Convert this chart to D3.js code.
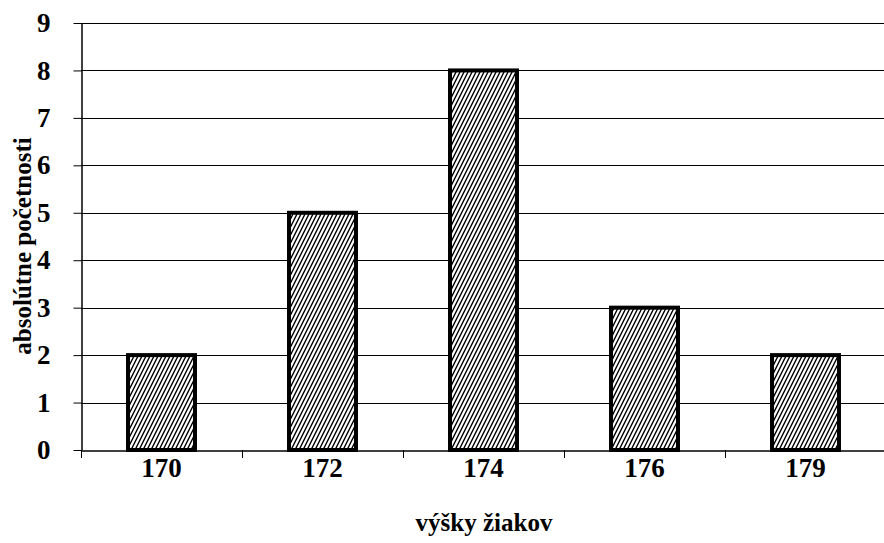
<!DOCTYPE html>
<html><head><meta charset="utf-8">
<script src="https://cdn.jsdelivr.net/npm/d3@7"></script>
<style>body{margin:0;background:#fff}svg{display:block}text{font-family:"Liberation Serif","Times New Roman",serif;font-weight:bold;fill:#000}</style>
</head><body><svg id="c" width="884" height="543"></svg>
<script>
const categories = ["170","172","174","176","179"];
const values = [2,5,8,3,2];
const yTicks = [0,1,2,3,4,5,6,7,8,9];
const xTitle = "výšky žiakov";
const yTitle = "absolútne početnosti";

const svg = d3.select("#c");
const L = 81, R = 886, T = 23, B = 450;
const x = d3.scaleBand().domain(categories).range([L, R]).paddingInner(0.584).paddingOuter(0.292);
const xb = d3.scaleBand().domain(categories).range([L, R]);
const y = d3.scaleLinear().domain([0, 9]).range([B, T]);

const defs = svg.append("defs");
const pat = defs.append("pattern").attr("id","hatch").attr("patternUnits","userSpaceOnUse").attr("width",4).attr("height",8);
pat.append("rect").attr("width",4).attr("height",8).attr("fill","#fff");
pat.append("path").attr("d","M0,8 L4,0 M-2,4 L2,-4 M2,12 L6,4").attr("stroke","#000").attr("stroke-width",1.4);

// gridlines
svg.append("g").selectAll("line").data(yTicks.filter(d=>d>0)).join("line")
  .attr("x1", L).attr("x2", R).attr("y1", d=>Math.round(y(d))+0.5).attr("y2", d=>Math.round(y(d))+0.5)
  .attr("stroke","#000").attr("stroke-width",1);

// y axis
const ya = svg.append("g").attr("transform",`translate(${L+0.5},0)`)
  .call(d3.axisLeft(y).tickValues(yTicks).tickSize(8).tickSizeOuter(0).tickPadding(23));
ya.select(".domain").attr("stroke","#000").attr("stroke-width",1.5);
ya.selectAll(".tick line").attr("stroke","#000");
ya.selectAll("text").style("font-size","27px").style("font-family","Liberation Serif").style("font-weight","bold").attr("fill","#000");

// x axis
const xa = svg.append("g").attr("transform",`translate(0,${B+0.5})`)
  .call(d3.axisBottom(xb).tickSize(0).tickSizeOuter(0).tickPadding(7));
xa.select(".domain").attr("stroke","#000").attr("stroke-width",1.5);
xa.selectAll("text").style("font-size","27px").style("font-family","Liberation Serif").style("font-weight","bold").attr("fill","#000");
// category boundary ticks
svg.append("g").selectAll("line").data(categories).join("line")
  .attr("x1", d=>xb(d)+0.5).attr("x2", d=>xb(d)+0.5).attr("y1", B).attr("y2", B+8)
  .attr("stroke","#000").attr("stroke-width",1);

// bars
svg.append("g").selectAll("rect").data(categories).join("rect")
  .attr("x", d=>x(d)).attr("width", x.bandwidth())
  .attr("y", (d,i)=>y(values[i])).attr("height", (d,i)=>B - y(values[i]))
  .attr("fill","url(#hatch)").attr("stroke","#000").attr("stroke-width",4);

svg.append("text").attr("x", 484).attr("y", 531).attr("text-anchor","middle").style("font-size","25px").text(xTitle);
svg.append("text").attr("transform","translate(31,246) rotate(-90)").attr("text-anchor","middle").style("font-size","25px").text(yTitle);
</script></body></html>
